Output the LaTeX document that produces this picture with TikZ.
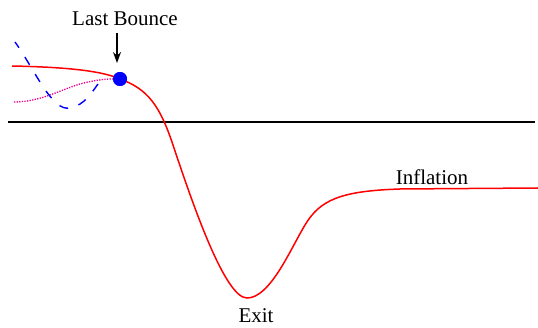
\documentclass[tikz,border=0pt]{standalone}
\usepackage{fontspec}
\setmainfont{Liberation Serif}
\usetikzlibrary{arrows.meta}
\tikzset{
  lbl/.style={anchor=base, inner sep=0pt, font=\fontsize{21}{25}\selectfont},
  redcurve/.style={red, line width=1.5pt},
  bluedash/.style={blue, line width=1.4pt, dash pattern=on 9pt off 11pt},
  magdot/.style={magenta, line width=1.3pt, dash pattern=on 1.3pt off 1.3pt},
  axisline/.style={black, line width=1.2pt},
  pointer/.style={black, line width=1.2pt, -{Stealth[length=11pt,width=8pt]}}
}
\begin{document}
\begin{tikzpicture}[x=1pt,y=-1pt]
\useasboundingbox (0,0) rectangle (538,328);
\coordinate (axl) at (8,122);
\coordinate (axr) at (535,122);
\draw[axisline] (axl) -- (axr);
% red curve
\coordinate (rs) at (12,66);
\coordinate (re) at (538,188);
\node[circle, fill=blue, minimum size=14pt, inner sep=0pt] (ball) at (120,79) {};
\draw[redcurve] (rs) .. controls (60,67) and (100,70) .. (ball.center)
  .. controls (148,89) and (160,106) .. (173,145)
  .. controls (193,205) and (225,298) .. (247,298)
  .. controls (270,298) and (290,250) .. (305,225)
  .. controls (320,200) and (340,191) .. (400,189) -- (re);
% magenta dotted
\coordinate (ms) at (14,102);
\draw[magdot] (ms) .. controls (40,102) and (60,90) .. (80,84)
  .. controls (95,80) and (105,79) .. (ball.west);
% blue dashed
\coordinate (bs) at (15,42);
\coordinate (be) at (98,84);
\draw[bluedash, dash phase=2pt] (bs) .. controls (35,70) and (52,112) .. (70,108)
  .. controls (85,105) and (92,92) .. (be);
\node[circle, fill=blue, minimum size=14pt, inner sep=0pt] at (ball) {};
% labels
\node[lbl] (lb) at (125,26) {Last Bounce};
\coordinate (arrtop) at (117,33);
\draw[pointer] (arrtop) -- (117,63);
\node[lbl] (exit) at (256,323) {Exit};
\node[lbl] (infl) at (432,185) {Inflation};
\end{tikzpicture}
\end{document}
